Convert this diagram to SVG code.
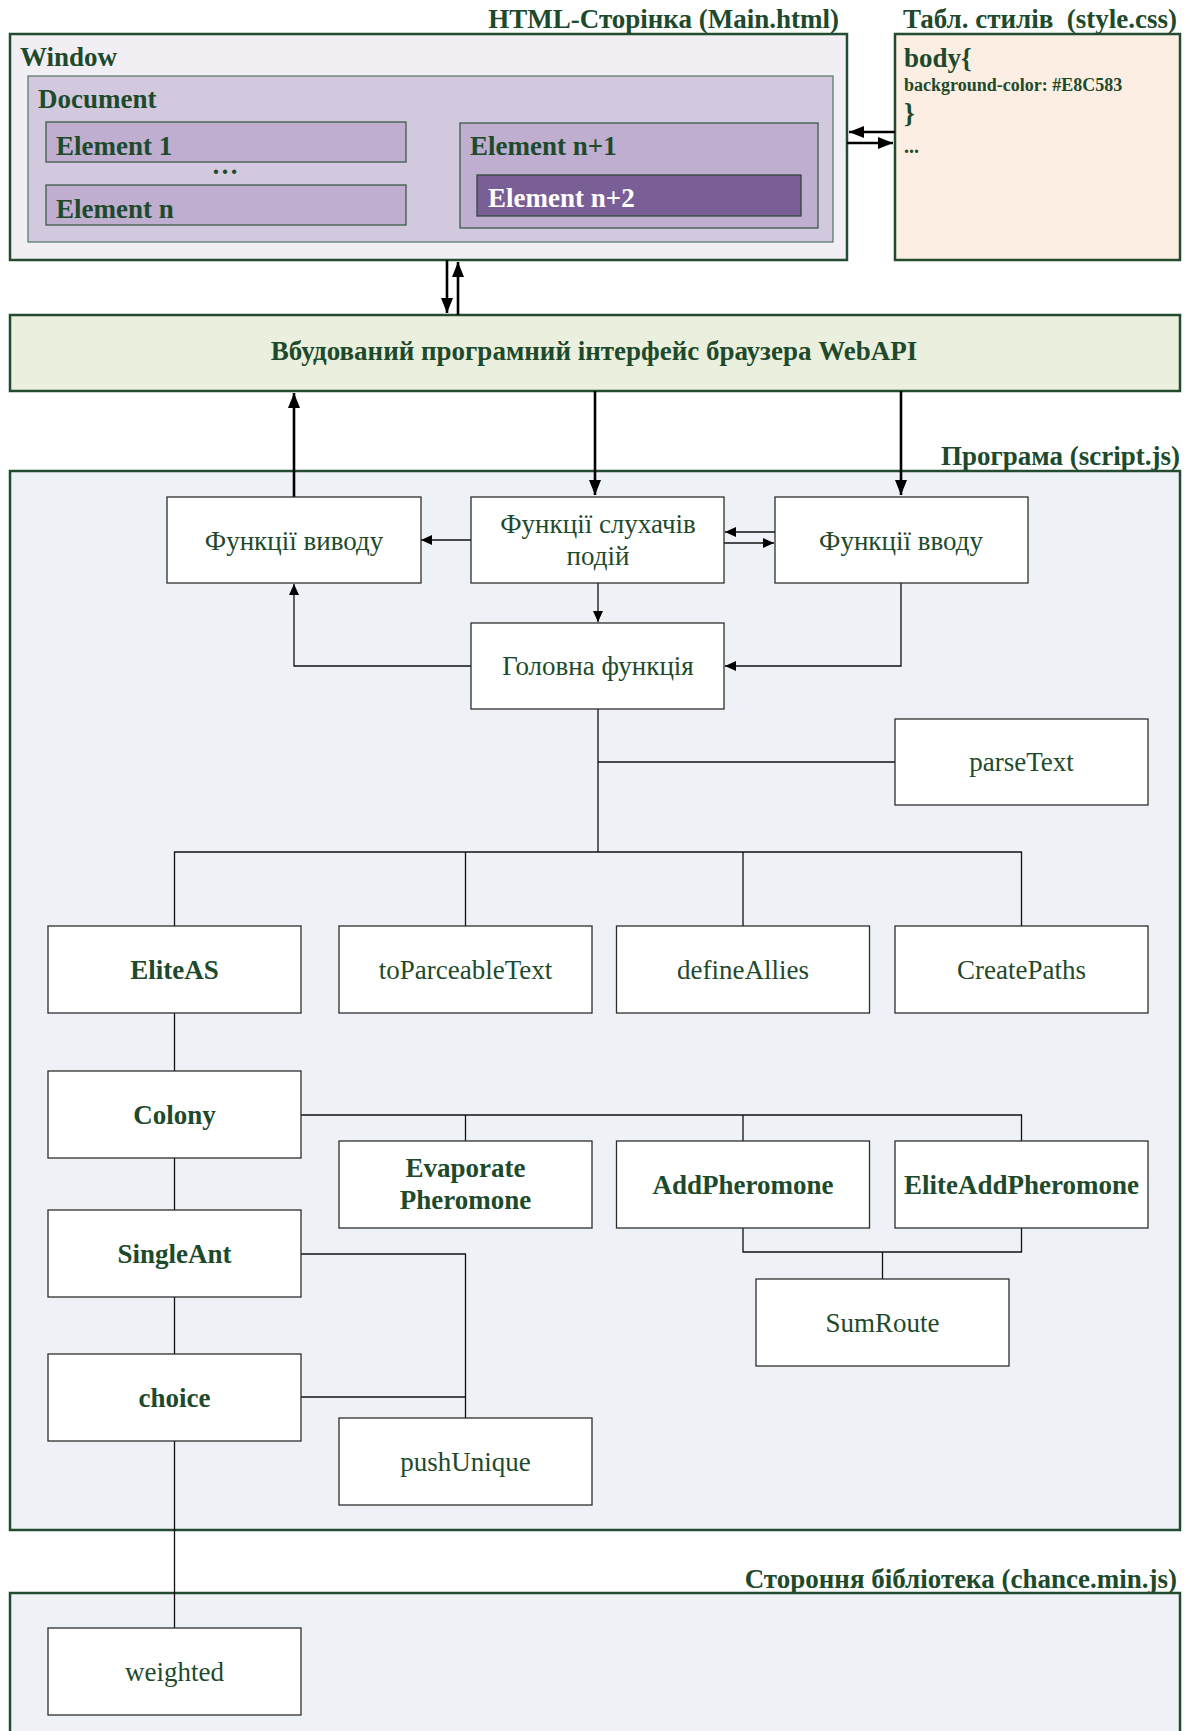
<svg xmlns="http://www.w3.org/2000/svg" width="1195" height="1731" viewBox="0 0 1195 1731">
<defs>
<style>
.t{font-family:"Liberation Serif","Times New Roman",serif;fill:#1E4A2C;font-size:27px}
.b{font-weight:bold}
.m{text-anchor:middle}
.e{text-anchor:end}
.frame{stroke:#234B2F;stroke-width:2.5}
.node{fill:#FFFFFF;stroke:#2E2E2E;stroke-width:1.3}
.c{fill:none;stroke:#111;stroke-width:1.3}
.ct{fill:none;stroke:#000;stroke-width:2.6}
</style>
<marker id="a" markerUnits="userSpaceOnUse" markerWidth="12" markerHeight="12" viewBox="0 0 12 12" refX="11" refY="6" orient="auto"><path d="M0,1 L11,6 L0,11 Z" fill="#000"/></marker>
<marker id="A" markerUnits="userSpaceOnUse" markerWidth="16" markerHeight="16" viewBox="0 0 16 16" refX="15" refY="8" orient="auto"><path d="M0,2 L15,8 L0,14 Z" fill="#000"/></marker>
</defs>
<rect width="1195" height="1731" fill="#FFFFFF"/>

<g id="html-page">
<text class="t b e" x="839" y="28">HTML-Сторінка (Main.html)</text>
<rect class="frame" x="10" y="34" width="837" height="226" fill="#F1EEF4"/>
<text class="t b" x="20" y="66">Window</text>
<rect x="28" y="76" width="805" height="166" fill="#D3C9DF" stroke="#5F7D6D" stroke-width="1.3"/>
<text class="t b" x="38" y="108">Document</text>
<g id="element1">
<rect x="46" y="122" width="360" height="40" fill="#BFAED0" stroke="#3B5A48" stroke-width="1.3"/>
<text class="t b" x="56" y="155">Element 1</text>
</g>
<text class="t b m" x="225" y="174">…</text>
<g id="elementn">
<rect x="46" y="185" width="360" height="40" fill="#BFAED0" stroke="#3B5A48" stroke-width="1.3"/>
<text class="t b" x="56" y="218">Element n</text>
</g>
<g id="elementn1">
<rect x="460" y="123" width="358" height="105" fill="#BFAED0" stroke="#3B5A48" stroke-width="1.3"/>
<text class="t b" x="470" y="155">Element n+1</text>
</g>
<g id="elementn2">
<rect x="477" y="175" width="324" height="41" fill="#7A5F96" stroke="#2E4A3A" stroke-width="1.3"/>
<text class="t b" x="488" y="207" style="fill:#FFFFFF">Element n+2</text>
</g>
</g>

<g id="css">
<text class="t b e" x="1177" y="28" xml:space="preserve">Табл. стилів  (style.css)</text>
<rect class="frame" x="895" y="34" width="285" height="226" fill="#FDEEE3"/>
<text class="t b" x="904" y="67">body{</text>
<text class="t b" x="904" y="91" style="font-size:18px">background-color: #E8C583</text>
<text class="t b" x="904" y="122">}</text>
<text class="t b" x="904" y="153" style="font-size:20px">...</text>
</g>

<g id="webapi">
<rect class="frame" x="10" y="315" width="1170" height="76" fill="#EBEFDD"/>
<text class="t b m" x="594" y="360">Вбудований програмний інтерфейс браузера WebAPI</text>
</g>

<g id="program">
<text class="t b e" x="1180" y="465">Програма (script.js)</text>
<rect class="frame" x="10" y="471" width="1170" height="1059" fill="#EEF1F5"/>
</g>

<g id="library">
<text class="t b e" x="1177" y="1588">Стороння бібліотека (chance.min.js)</text>
<rect class="frame" x="10" y="1593" width="1170" height="160" fill="#EEF1F5"/>
</g>

<g id="connectors">
<line class="ct" x1="895" y1="132" x2="849" y2="132" marker-end="url(#A)"/>
<line class="ct" x1="847" y1="143" x2="893" y2="143" marker-end="url(#A)"/>
<line class="ct" x1="447" y1="260" x2="447" y2="313" marker-end="url(#A)"/>
<line class="ct" x1="458" y1="315" x2="458" y2="262" marker-end="url(#A)"/>
<line class="ct" x1="294" y1="497" x2="294" y2="393" marker-end="url(#A)"/>
<line class="ct" x1="595" y1="391" x2="595" y2="495" marker-end="url(#A)"/>
<line class="ct" x1="901" y1="391" x2="901" y2="495" marker-end="url(#A)"/>
<line class="c" x1="471" y1="540" x2="421" y2="540" marker-end="url(#a)"/>
<line class="c" x1="775" y1="532" x2="725" y2="532" marker-end="url(#a)"/>
<line class="c" x1="724" y1="543" x2="774" y2="543" marker-end="url(#a)"/>
<line class="c" x1="598" y1="583" x2="598" y2="622" marker-end="url(#a)"/>
<polyline class="c" points="901,583 901,666 725,666" marker-end="url(#a)"/>
<polyline class="c" points="471,666 294,666 294,584" marker-end="url(#a)"/>
<line class="c" x1="598" y1="709" x2="598" y2="852"/>
<line class="c" x1="598" y1="762" x2="895" y2="762"/>
<polyline class="c" points="174.5,926 174.5,852 1021.5,852 1021.5,926"/>
<line class="c" x1="465.5" y1="852" x2="465.5" y2="926"/>
<line class="c" x1="743" y1="852" x2="743" y2="926"/>
<line class="c" x1="174.5" y1="1013" x2="174.5" y2="1071"/>
<polyline class="c" points="301,1115 1021.5,1115 1021.5,1141"/>
<line class="c" x1="465.5" y1="1115" x2="465.5" y2="1141"/>
<line class="c" x1="743" y1="1115" x2="743" y2="1141"/>
<line class="c" x1="174.5" y1="1158" x2="174.5" y2="1210"/>
<polyline class="c" points="743,1228 743,1252 1021.5,1252 1021.5,1228"/>
<line class="c" x1="882.5" y1="1252" x2="882.5" y2="1279"/>
<polyline class="c" points="301,1254 465.5,1254 465.5,1418"/>
<line class="c" x1="301" y1="1397" x2="465.5" y2="1397"/>
<line class="c" x1="174.5" y1="1297" x2="174.5" y2="1354"/>
<line class="c" x1="174.5" y1="1441" x2="174.5" y2="1628"/>
</g>

<g id="n-vyvodu"><rect class="node" x="167" y="497" width="254" height="86"/><text class="t m" x="294" y="550">Функції виводу</text></g>
<g id="n-sluhachiv"><rect class="node" x="471" y="497" width="253" height="86"/><text class="t m" x="598" y="533">Функції слухачів</text><text class="t m" x="598" y="565">подій</text></g>
<g id="n-vvodu"><rect class="node" x="775" y="497" width="253" height="86"/><text class="t m" x="901" y="550">Функції вводу</text></g>
<g id="n-holovna"><rect class="node" x="471" y="623" width="253" height="86"/><text class="t m" x="598" y="675">Головна функція</text></g>
<g id="n-parseText"><rect class="node" x="895" y="719" width="253" height="86"/><text class="t m" x="1021.5" y="771">parseText</text></g>
<g id="n-EliteAS"><rect class="node" x="48" y="926" width="253" height="87"/><text class="t b m" x="174.5" y="979">EliteAS</text></g>
<g id="n-toParceableText"><rect class="node" x="339" y="926" width="253" height="87"/><text class="t m" x="465.5" y="979">toParceableText</text></g>
<g id="n-defineAllies"><rect class="node" x="616.5" y="926" width="253" height="87"/><text class="t m" x="743" y="979">defineAllies</text></g>
<g id="n-CreatePaths"><rect class="node" x="895" y="926" width="253" height="87"/><text class="t m" x="1021.5" y="979">CreatePaths</text></g>
<g id="n-Colony"><rect class="node" x="48" y="1071" width="253" height="87"/><text class="t b m" x="174.5" y="1124">Colony</text></g>
<g id="n-Evaporate"><rect class="node" x="339" y="1141" width="253" height="87"/><text class="t b m" x="465.5" y="1177">Evaporate</text><text class="t b m" x="465.5" y="1209">Pheromone</text></g>
<g id="n-AddPheromone"><rect class="node" x="616.5" y="1141" width="253" height="87"/><text class="t b m" x="743" y="1194">AddPheromone</text></g>
<g id="n-EliteAddPheromone"><rect class="node" x="895" y="1141" width="253" height="87"/><text class="t b m" x="1021.5" y="1194">EliteAddPheromone</text></g>
<g id="n-SingleAnt"><rect class="node" x="48" y="1210" width="253" height="87"/><text class="t b m" x="174.5" y="1263">SingleAnt</text></g>
<g id="n-SumRoute"><rect class="node" x="756" y="1279" width="253" height="87"/><text class="t m" x="882.5" y="1332">SumRoute</text></g>
<g id="n-choice"><rect class="node" x="48" y="1354" width="253" height="87"/><text class="t b m" x="174.5" y="1407">choice</text></g>
<g id="n-pushUnique"><rect class="node" x="339" y="1418" width="253" height="87"/><text class="t m" x="465.5" y="1471">pushUnique</text></g>
<g id="n-weighted"><rect class="node" x="48" y="1628" width="253" height="87"/><text class="t m" x="174.5" y="1681">weighted</text></g>
</svg>
